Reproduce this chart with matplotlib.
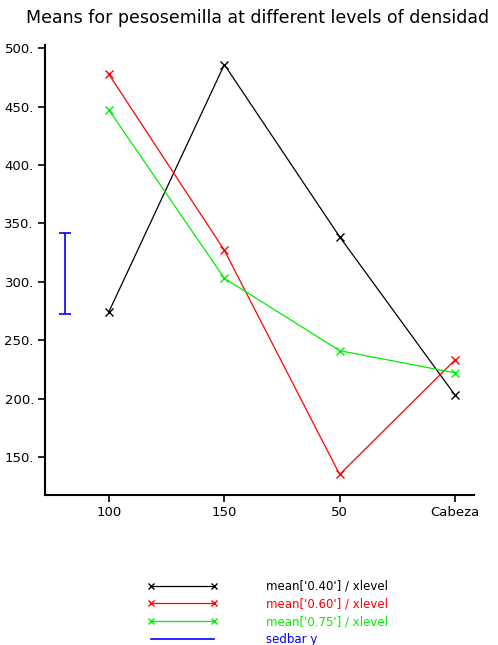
import numpy as np
import matplotlib.pyplot as plt
from matplotlib.lines import Line2D

# niveles de densidad (eje x)
niveles = ['100', '150', '50', 'Cabeza']
media_040 = [274.5, 486, 338.5, 203]
media_060 = [477.5, 327, 135, 233]
media_075 = [447, 303, 241, 222]
sed_lo, sed_hi = 272, 342

x = np.arange(1, len(niveles) + 1)

fig = plt.figure(figsize=(4.98, 6.45), dpi=100)
ax = fig.add_axes([0.0904, 0.2326, 0.8614, 0.6977])

ax.plot(x, media_040, color='black', lw=0.9, marker='x', ms=6, mew=1)
ax.plot(x, media_060, color='#ff0000', lw=0.9, marker='x', ms=6, mew=1)
ax.plot(x, media_075, color='#00ee00', lw=0.9, marker='x', ms=6, mew=1)
ax.errorbar([0.62], [(sed_lo + sed_hi) / 2], yerr=[(sed_hi - sed_lo) / 2],
            color='#0000ff', lw=1.2, capsize=4, capthick=1.2)

ax.set_xlim(0.445, 4.165)
ax.set_ylim(117.4, 502.8)
ax.set_xticks(x)
ax.set_xticklabels(niveles)
yt = np.arange(150, 501, 50)
ax.set_yticks(yt)
ax.set_yticklabels([f'{v}.' for v in yt])
for s in ['top', 'right']:
    ax.spines[s].set_visible(False)
for s in ['left', 'bottom']:
    ax.spines[s].set_linewidth(1.5)
ax.tick_params(length=5, width=1.2, labelsize=9.5, pad=3)

fig.text(0.517, 0.972, 'Means for pesosemilla at different levels of densidad',
         ha='center', va='center', fontsize=12.5)

handles = [
    Line2D([0, 1], [0, 0], color='black', lw=0.9, marker='x', ms=5),
    Line2D([0, 1], [0, 0], color='#ff0000', lw=0.9, marker='x', ms=5),
    Line2D([0, 1], [0, 0], color='#00ee00', lw=0.9, marker='x', ms=5),
    Line2D([0, 1], [0, 0], color='#0000ff', lw=1.2),
]
labels = ["mean['0.40'] / xlevel", "mean['0.60'] / xlevel",
          "mean['0.75'] / xlevel", "sedbar y _"]
leg = fig.legend(handles, labels, loc='upper left', bbox_to_anchor=(0.297, 0.101),
                 frameon=False, numpoints=2, handlelength=5.9, handletextpad=4.1,
                 labelspacing=0.4, borderaxespad=0, borderpad=0,
                 prop={'size': 8.5}, labelcolor='linecolor')

fig.savefig('out.png', dpi=100)
